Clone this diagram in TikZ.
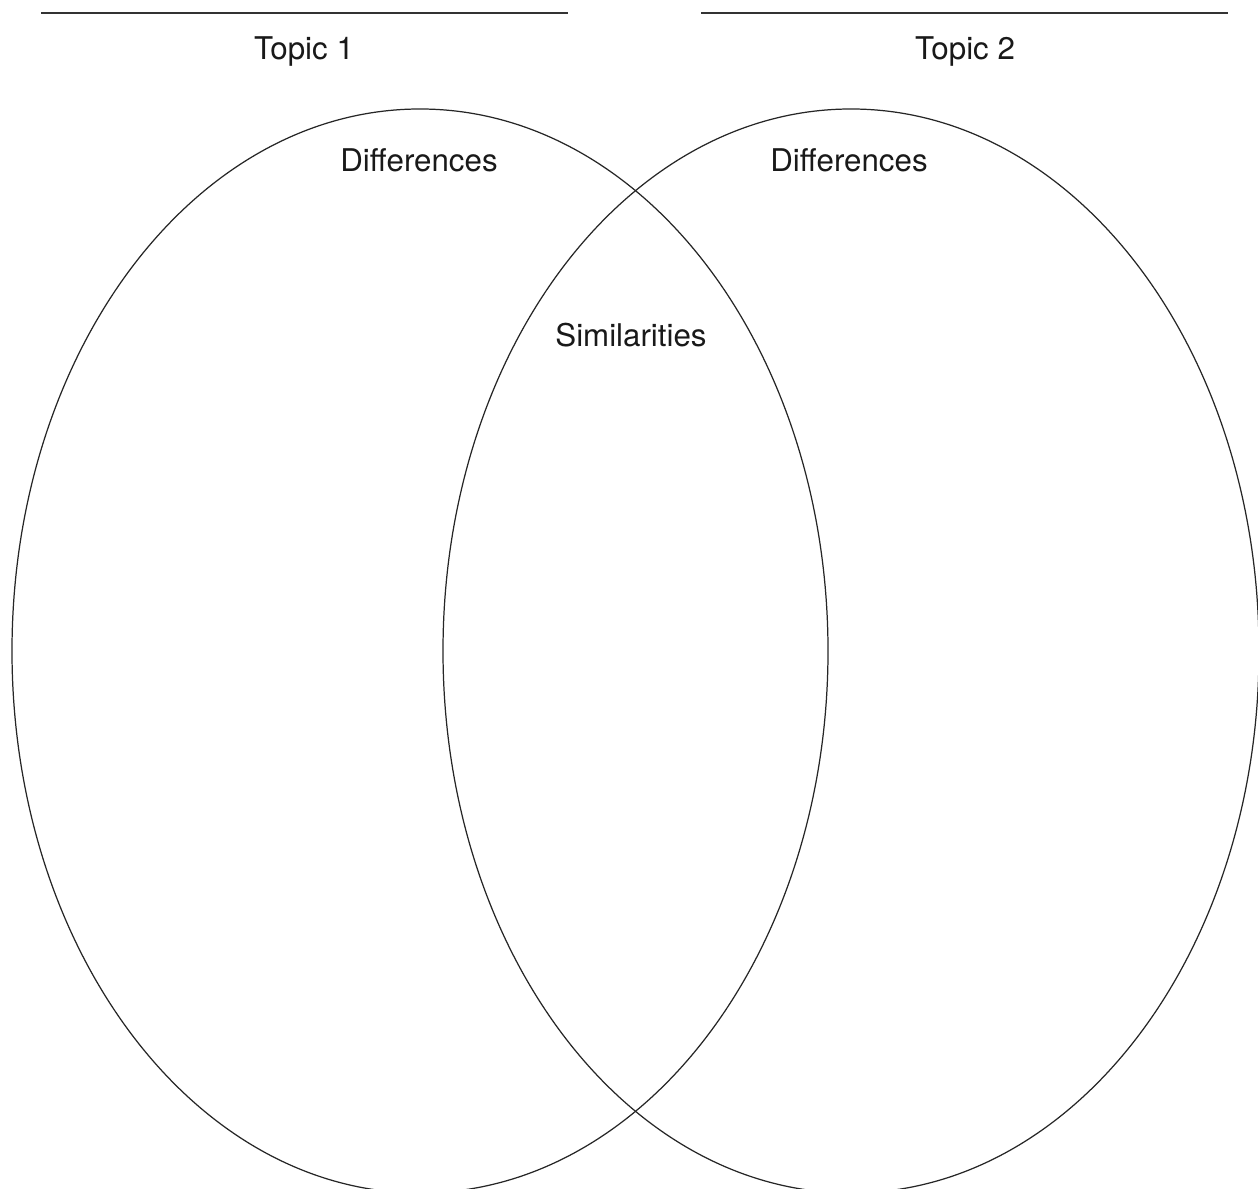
\documentclass[tikz,border=0pt]{standalone}
\usepackage{fontspec}
\setmainfont{TeX Gyre Heros}
\begin{document}
\begin{tikzpicture}[x=0.01cm,y=-0.01cm,font=\fontsize{8.9}{10}\selectfont]
\tikzset{rim/.style={draw=black!85,line width=0.35pt},
  rule/.style={draw=black!80,line width=0.55pt},
  label/.style={anchor=base,text=black!90}}
\useasboundingbox (0,0) rectangle (1258,1189);
\clip (0,0) rectangle (1258,1189);

% topic lines
\draw[rule] (41,13) coordinate (l1) -- (568,13) coordinate (l2);
\draw[rule] (701,13) coordinate (r1) -- (1228,13) coordinate (r2);
\node[label] (topic1) at (304,60) {Topic 1};
\node[label] (topic2) at (965,60) {Topic 2};

% the two circles
\coordinate (c1) at (420,651);
\coordinate (c2) at (851,651);
\draw[rim] (c1) ellipse [x radius=408, y radius=542];
\draw[rim] (c2) ellipse [x radius=408, y radius=542];

\node[label] (diff1) at (419,172) {Differences};
\node[label] (diff2) at (849,172) {Differences};
\node[label] (sim) at (631,347) {Similarities};

\end{tikzpicture}
\end{document}
